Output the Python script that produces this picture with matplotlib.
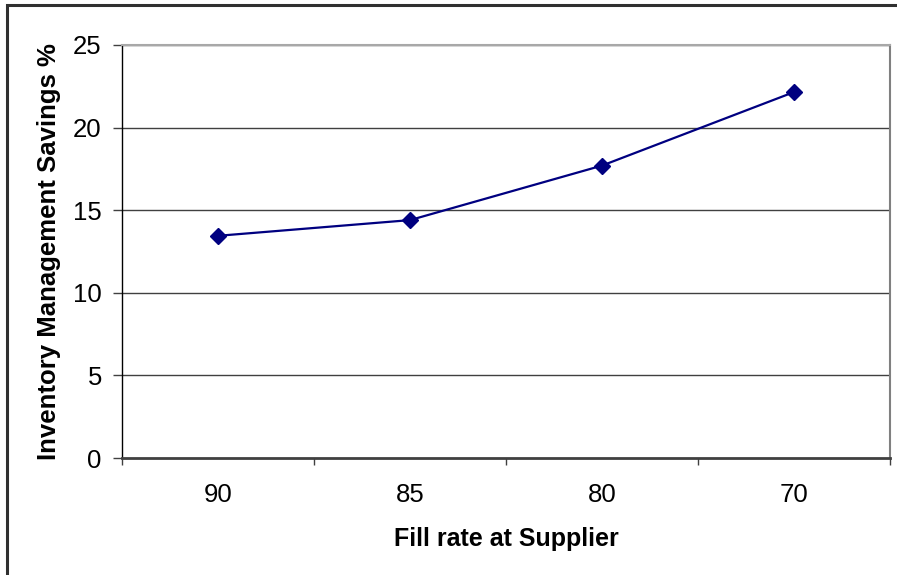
import matplotlib.pyplot as plt
from matplotlib.patches import Rectangle

plt.rcParams['font.family'] = ['Liberation Sans', 'DejaVu Sans']

# ===== 데이터 =====
fill_rates = ["90", "85", "80", "70"]
savings = [13.45, 14.4, 17.7, 22.15]
y_ticks = [0, 5, 10, 15, 20, 25]

fig = plt.figure(figsize=(8.97, 5.75), dpi=100)
ax = fig.add_axes([122 / 897, 117 / 575, 768 / 897, 413 / 575])

x = list(range(len(fill_rates)))
ax.plot(x, savings, color="#000080", linewidth=1.6, marker="D",
        markersize=8.5, markerfacecolor="#000080", markeredgecolor="#000080",
        zorder=3)

ax.set_xlim(-0.5, len(fill_rates) - 0.5)
ax.set_ylim(0, 25)
ax.set_yticks(y_ticks)
ax.set_xticks(x)
ax.set_xticklabels(fill_rates)
ax.set_xticks([i - 0.5 for i in range(len(fill_rates) + 1)], minor=True)

for yv in y_ticks[1:]:
    ax.axhline(yv, color="#404040", linewidth=1.0, zorder=1)

ax.tick_params(axis="x", which="major", length=0, pad=18, labelsize=18.5)
ax.tick_params(axis="x", which="minor", length=5, width=1, color="#404040")
ax.tick_params(axis="y", length=6.5, width=1, color="#404040", pad=8,
               labelsize=18.5)

ax.spines["left"].set_color("black")
ax.spines["left"].set_linewidth(1.0)
ax.spines["bottom"].set_color("#404040")
ax.spines["bottom"].set_linewidth(2.0)
ax.spines["top"].set_color("#a8a8a8")
ax.spines["top"].set_linewidth(1.5)
ax.spines["right"].set_color("#808080")
ax.spines["right"].set_linewidth(1.5)

ax.set_xlabel("Fill rate at Supplier", fontsize=18, fontweight="bold",
              labelpad=14.5)
ax.set_ylabel("Inventory Management Savings %", fontsize=18.5,
              fontweight="bold", labelpad=8.5)

# 바깥 테두리 (위·왼쪽만 보임)
fig.patches.append(Rectangle((7 / 897, -0.1), 1.2, 1.1 - 5 / 575,
                             transform=fig.transFigure, fill=False,
                             edgecolor="#303030", linewidth=2.2))

fig.savefig("out.png", dpi=100)
